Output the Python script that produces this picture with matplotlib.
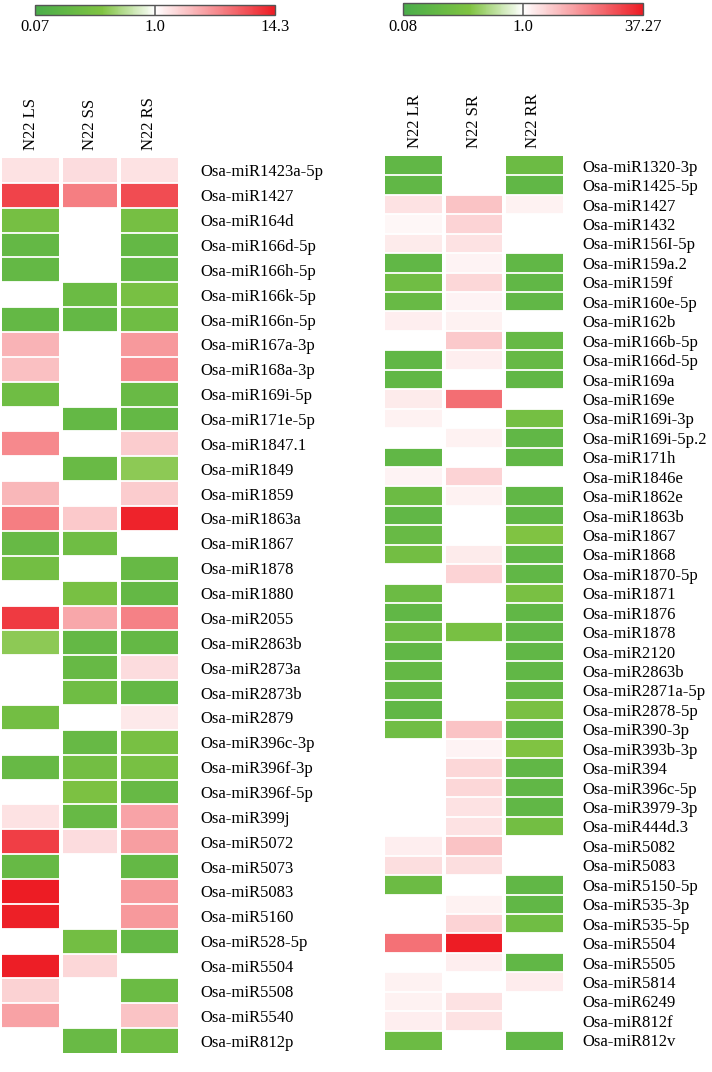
import numpy as np
import matplotlib
matplotlib.use('Agg')
import matplotlib.pyplot as plt
from matplotlib.colors import LinearSegmentedColormap, FuncNorm

nan = np.nan

# ---------------- data: left panel (shoot) ----------------
left_rows = ['Osa-miR1423a-5p', 'Osa-miR1427', 'Osa-miR164d', 'Osa-miR166d-5p', 'Osa-miR166h-5p',
             'Osa-miR166k-5p', 'Osa-miR166n-5p', 'Osa-miR167a-3p', 'Osa-miR168a-3p', 'Osa-miR169i-5p',
             'Osa-miR171e-5p', 'Osa-miR1847.1', 'Osa-miR1849', 'Osa-miR1859', 'Osa-miR1863a',
             'Osa-miR1867', 'Osa-miR1878', 'Osa-miR1880', 'Osa-miR2055', 'Osa-miR2863b',
             'Osa-miR2873a', 'Osa-miR2873b', 'Osa-miR2879', 'Osa-miR396c-3p', 'Osa-miR396f-3p',
             'Osa-miR396f-5p', 'Osa-miR399j', 'Osa-miR5072', 'Osa-miR5073', 'Osa-miR5083',
             'Osa-miR5160', 'Osa-miR528-5p', 'Osa-miR5504', 'Osa-miR5508', 'Osa-miR5540', 'Osa-miR812p']
left_cols = ['N22 LS', 'N22 SS', 'N22 RS']
left_LS = [1.4, 9.0, 0.24, 0.15, 0.15, nan, 0.15, 2.4, 2.1, 0.2,
           nan, 4.0, nan, 2.3, 4.5, 0.16, 0.22, nan, 10.0, 0.35,
           nan, nan, 0.22, nan, 0.16, nan, 1.4, 9.5, 0.16, 14.3,
           13.5, nan, 14.0, 1.7, 3.0, nan]
left_SS = [1.5, 4.5, nan, nan, nan, 0.18, 0.15, nan, nan, nan,
           0.15, nan, 0.17, nan, 1.9, 0.2, nan, 0.25, 2.8, 0.15,
           0.16, 0.2, nan, 0.16, 0.22, 0.28, 0.16, 1.5, nan, nan,
           nan, 0.22, 1.6, nan, nan, 0.17]
left_RS = [1.4, 8.0, 0.24, 0.15, 0.15, 0.25, 0.2, 3.3, 3.8, 0.17,
           0.15, 1.8, 0.35, 1.8, 13.0, nan, 0.16, 0.15, 4.3, 0.15,
           1.5, 0.15, 1.3, 0.25, 0.25, 0.16, 2.9, 3.1, 0.15, 3.3,
           3.3, 0.15, nan, 0.18, 2.0, 0.2]
left_min, left_max = 0.07, 14.3
left_ticklabels = ['0.07', '1.0', '14.3']

# ---------------- data: right panel (root) ----------------
right_rows = ['Osa-miR1320-3p', 'Osa-miR1425-5p', 'Osa-miR1427', 'Osa-miR1432', 'Osa-miR156I-5p',
              'Osa-miR159a.2', 'Osa-miR159f', 'Osa-miR160e-5p', 'Osa-miR162b', 'Osa-miR166b-5p',
              'Osa-miR166d-5p', 'Osa-miR169a', 'Osa-miR169e', 'Osa-miR169i-3p', 'Osa-miR169i-5p.2',
              'Osa-miR171h', 'Osa-miR1846e', 'Osa-miR1862e', 'Osa-miR1863b', 'Osa-miR1867',
              'Osa-miR1868', 'Osa-miR1870-5p', 'Osa-miR1871', 'Osa-miR1876', 'Osa-miR1878',
              'Osa-miR2120', 'Osa-miR2863b', 'Osa-miR2871a-5p', 'Osa-miR2878-5p', 'Osa-miR390-3p',
              'Osa-miR393b-3p', 'Osa-miR394', 'Osa-miR396c-5p', 'Osa-miR3979-3p', 'Osa-miR444d.3',
              'Osa-miR5082', 'Osa-miR5083', 'Osa-miR5150-5p', 'Osa-miR535-3p', 'Osa-miR535-5p',
              'Osa-miR5504', 'Osa-miR5505', 'Osa-miR5814', 'Osa-miR6249', 'Osa-miR812f', 'Osa-miR812v']
right_cols = ['N22 LR', 'N22 SR', 'N22 RR']
right_LR = [0.15, 0.15, 1.6, 1.15, 1.4, 0.15, 0.22, 0.18, 1.3, nan,
            0.15, 0.15, 1.4, 1.25, nan, 0.15, 1.2, 0.2, 0.15, 0.18,
            0.24, nan, 0.2, 0.15, 0.2, 0.15, 0.16, 0.16, 0.15, 0.22,
            nan, nan, nan, nan, nan, 1.3, 1.7, 0.2, nan, nan,
            9.5, nan, 1.25, 1.25, 1.3, 0.2]
right_SR = [nan, nan, 2.6, 2.0, 1.6, 1.2, 1.9, 1.2, 1.25, 2.4,
            1.3, nan, 10.0, nan, 1.25, nan, 2.0, 1.25, nan, nan,
            1.4, 2.0, nan, nan, 0.27, nan, nan, nan, nan, 2.6,
            1.2, 1.9, 1.9, 1.6, 1.6, 2.6, 1.7, nan, 1.25, 2.0,
            37.27, 1.3, nan, 1.6, 1.6, nan]
right_RR = [0.2, 0.15, 1.25, nan, nan, 0.15, 0.15, 0.15, nan, 0.17,
            0.17, 0.15, nan, 0.25, 0.15, 0.15, nan, 0.15, 0.15, 0.33,
            0.15, 0.15, 0.28, 0.15, 0.15, 0.15, 0.15, 0.16, 0.28, 0.15,
            0.33, 0.15, 0.15, 0.15, 0.24, nan, nan, 0.15, 0.15, 0.22,
            nan, 0.15, 1.35, nan, nan, 0.15]
right_min, right_max = 0.08, 37.27
right_ticklabels = ['0.08', '1.0', '37.27']

# ---------------- style ----------------
plt.rcParams['font.family'] = ['Liberation Serif', 'DejaVu Serif']
FS = 12

cmap = LinearSegmentedColormap.from_list(
    'gwr', [(0.0, '#4aad4a'), (0.15, '#66b945'), (0.28, '#80c342'),
            (0.5, '#ffffff'), (1.0, '#ed1c24')])
cmap.set_bad('white')


def make_norm(vmin, vmax):
    a = -np.log(vmin)
    b = np.log(vmax)

    def fwd(v):
        v = np.asarray(v, dtype=float) if not np.ma.isMaskedArray(v) else v
        return np.log(v) / np.where(np.asarray(v) < 1, a, b)

    def inv(y):
        return np.exp(y * np.where(np.asarray(y) < 0, a, b))

    return FuncNorm((fwd, inv), vmin=vmin, vmax=vmax)


fig = plt.figure(figsize=(7.12, 10.72), dpi=100)
W, H = 712.0, 1072.0


def panel(rect, rows, cols, series, vmin, vmax, pad_lbl, cbar_rect, ticklabels):
    ax = fig.add_axes(rect)
    data = np.ma.masked_invalid(np.array(series, dtype=float).T)
    norm = make_norm(vmin, vmax)
    mesh = ax.pcolormesh(np.arange(len(cols) + 1), np.arange(len(rows) + 1), data,
                         cmap=cmap, norm=norm)
    ax.set_xlim(0, len(cols))
    ax.set_ylim(len(rows), 0)
    for x in range(1, len(cols)):
        ax.axvline(x, color='white', lw=2.9)
    for y in range(1, len(rows)):
        ax.axhline(y, color='white', lw=1.3)
    for s in ax.spines.values():
        s.set_visible(False)
    ax.yaxis.tick_right()
    ax.set_yticks(np.arange(len(rows)) + 0.5)
    ax.set_yticklabels(rows, fontsize=FS)
    ax.tick_params(axis='y', length=0, pad=pad_lbl)
    ax.xaxis.tick_top()
    ax.set_xticks(np.arange(len(cols)) + 0.5)
    ax.set_xticklabels(cols, rotation=90, fontsize=FS)
    ax.tick_params(axis='x', length=0, pad=6)

    cax = fig.add_axes(cbar_rect)
    cb = fig.colorbar(mesh, cax=cax, orientation='horizontal')
    cb.set_ticks([vmin, 1.0, vmax])
    cb.set_ticklabels(ticklabels)
    cax.tick_params(length=0, labelsize=FS, pad=3)
    cb.outline.set_edgecolor('#555555')
    cb.outline.set_linewidth(1.0)
    cax.axvline(1.0, color='#666666', lw=1.2)
    return ax


panel([2 / W, 1 - 1053 / H, 176 / W, 895 / H], left_rows, left_cols,
      [left_LS, left_SS, left_RS], left_min, left_max, 16,
      [35 / W, 1 - 15 / H, 240 / W, 10 / H], left_ticklabels)
panel([385 / W, 1 - 1050 / H, 178 / W, 894 / H], right_rows, right_cols,
      [right_LR, right_SR, right_RR], right_min, right_max, 14,
      [403 / W, 1 - 15 / H, 240 / W, 12 / H], right_ticklabels)

fig.savefig('out.png', dpi=100, facecolor='white')
